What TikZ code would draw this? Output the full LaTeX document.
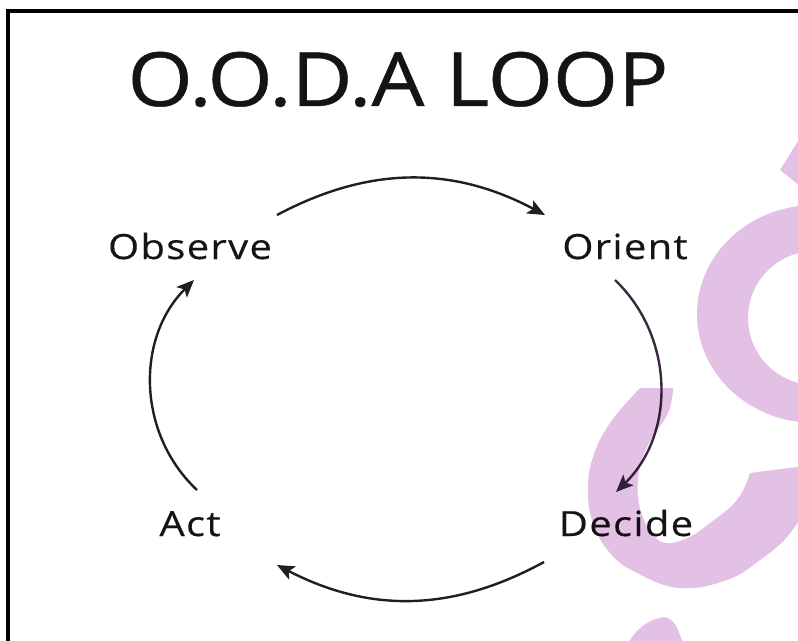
\documentclass[tikz,border=0pt]{standalone}
\usepackage{fontspec}
\usetikzlibrary{arrows.meta}
\newfontfamily\titlefont[FakeStretch=1.12,FakeBold=0.6]{Open Sans}
\newfontfamily\labelfont[FakeStretch=1.15,LetterSpace=4,FakeBold=0.4]{Open Sans}
\definecolor{wmpink}{RGB}{227,193,228}
\definecolor{framecol}{RGB}{0,0,0}
\definecolor{darkplum}{RGB}{58,40,62}
\tikzset{
  lbl/.style={font=\labelfont\fontsize{26}{30}\selectfont, inner sep=0pt, anchor=base, text=black!92},
  ttl/.style={font=\titlefont\fontsize{56}{62}\selectfont, inner sep=0pt, anchor=base, text=black!92},
  flow/.style={line width=1.8pt, black!88, -{Stealth[length=13pt,width=11pt,inset=3pt]}},
  wm/.style={fill=wmpink, draw=none}
}
\begin{document}
\begin{tikzpicture}[x=0.75pt,y=0.75pt]
\useasboundingbox (0,0) rectangle (798,-641);
\fill[white] (0,0) rectangle (798,-641);
% frame
\draw[framecol, line width=3pt] (8,-645) -- (8,-11) -- (802,-11);
% title and labels
\node[ttl] (title) at (398,-106) {O.O.D.A LOOP};
\node[lbl] (obs) at (190,-259) {Observe};
\node[lbl] (ori) at (625,-259) {Orient};
\node[lbl] (dec) at (626,-536) {Decide};
\node[lbl] (act) at (190,-536) {Act};
% arrow end points
\coordinate (t1) at (277,-215);
\coordinate (t2) at (545,-215);
\coordinate (r1) at (615,-280);
\coordinate (r2) at (616,-492);
\coordinate (b1) at (544,-562);
\coordinate (b2) at (277,-565);
\coordinate (l1) at (197,-490);
\coordinate (l2) at (194,-280);
\draw[flow] (t1) to[bend left=28] (t2);
\draw[flow, darkplum] (r1) to[bend left=46] (r2);
\draw[flow] (b1) to[bend left=28] (b2);
\draw[flow] (l1) to[bend left=46] (l2);
% watermark
\begin{scope}[blend mode=multiply]
\clip (0,0) rectangle (798,-641);
\fill[wm, even odd rule] (815,-314) ellipse [x radius=118, y radius=109]
      (815,-318) ellipse [x radius=67, y radius=67];
\fill[wm] plot[smooth, tension=0.7] coordinates {(640,-388) (610,-423) (593,-457) (588,-490) (593,-523) (610,-553) (637,-573) (680,-588) (727,-580) (760,-560) (787,-537) (805,-510)}
   -- (805,-466) -- (750,-473)
   -- plot[smooth, tension=0.7] coordinates {(750,-473) (737,-500) (710,-523) (685,-539) (660,-541) (642,-515) (638,-480) (647,-447) (668,-413) (673,-388)} -- cycle;
\fill[wm] (780,-170) -- (800,-138) -- (800,-186) -- cycle;
\fill[wm] (627,-645) to[out=60,in=190] (664,-617) to[out=-10,in=115] (684,-645) -- cycle;
\end{scope}
\end{tikzpicture}
\end{document}
